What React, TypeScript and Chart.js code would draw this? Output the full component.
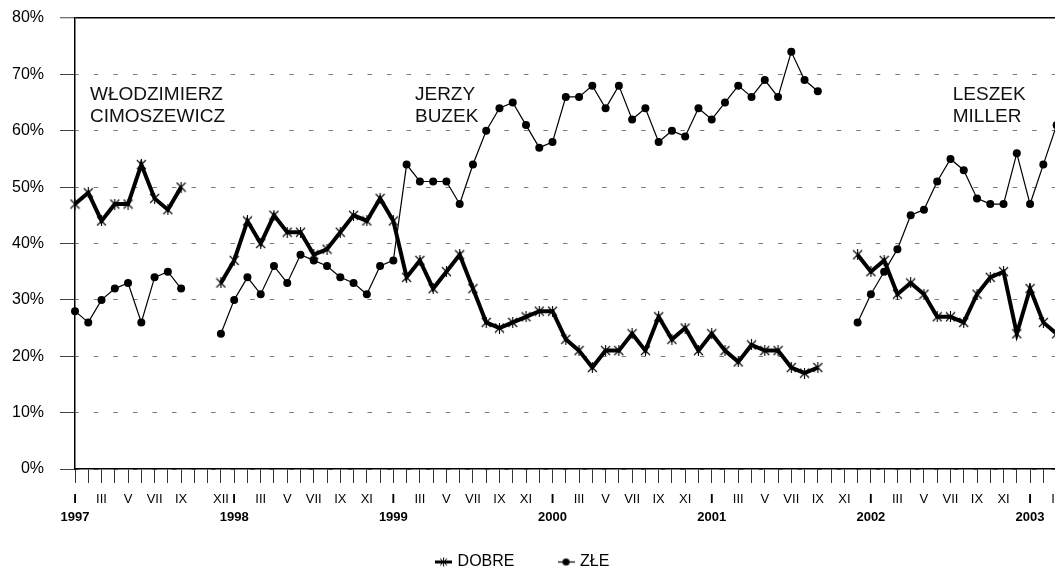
import React, { useEffect, useRef } from 'react';
import { Chart, registerables } from 'chart.js';

Chart.register(...registerables);

const FONT = "'Liberation Sans', Arial, sans-serif";

// Categories: monthly, I 1997 .. III 2003
const MONTHS = ['I', 'II', 'III', 'IV', 'V', 'VI', 'VII', 'VIII', 'IX', 'X', 'XI', 'XII'];
const YEARS = ['1997', '1998', '1999', '2000', '2001', '2002', '2003'];
const PERIOD_COUNT = 75;
const categories: string[] = Array.from({ length: PERIOD_COUNT }, (_, i) => `${MONTHS[i % 12]} ${YEARS[Math.floor(i / 12)]}`);

// Tick labels that are shown
const SHOWN_MONTHS = ['I', 'III', 'V', 'VII', 'IX', 'XI'];
const HIDDEN_TICK_LABELS = ['XI 1997'];
const EXTRA_TICK_LABELS = ['XII 1997'];
const Y_TICKS = [0, 10, 20, 30, 40, 50, 60, 70, 80];

// Series (percent)
const dobre: (number | null)[] = [
  47, 49, 44, 47, 47, 54, 48, 46, 50, null, null, 33,
  37, 44, 40, 45, 42, 42, 38, 39, 42, 45, 44, 48,
  44, 34, 37, 32, 35, 38, 32, 26, 25, 26, 27, 28,
  28, 23, 21, 18, 21, 21, 24, 21, 27, 23, 25, 21,
  24, 21, 19, 22, 21, 21, 18, 17, 18, null, null, 38,
  35, 37, 31, 33, 31, 27, 27, 26, 31, 34, 35, 24,
  32, 26, 24,
];
const zle: (number | null)[] = [
  28, 26, 30, 32, 33, 26, 34, 35, 32, null, null, 24,
  30, 34, 31, 36, 33, 38, 37, 36, 34, 33, 31, 36,
  37, 54, 51, 51, 51, 47, 54, 60, 64, 65, 61, 57,
  58, 66, 66, 68, 64, 68, 62, 64, 58, 60, 59, 64,
  62, 65, 68, 66, 69, 66, 74, 69, 67, null, null, 26,
  31, 35, 39, 45, 46, 51, 55, 53, 48, 47, 47, 56,
  47, 54, 61,
];

// Prime minister labels (anchored in data space)
const PM_NAMES = [['WŁODZIMIERZ', 'CIMOSZEWICZ'], ['JERZY', 'BUZEK'], ['LESZEK', 'MILLER']];
const PM_AT = [1.13, 25.63, 66.17];
const PM_LEVEL = 65.5;

const X_MAX = 73.88;

function makeStar(size: number, lw: number) {
  const c = document.createElement('canvas');
  c.width = size; c.height = size;
  const g = c.getContext('2d')!;
  g.strokeStyle = '#000'; g.lineWidth = lw;
  g.beginPath();
  g.moveTo(1, 1); g.lineTo(size - 1, size - 1);
  g.moveTo(size - 1, 1); g.lineTo(1, size - 1);
  g.moveTo(size / 2, 0); g.lineTo(size / 2, size);
  g.stroke();
  return c;
}

function makeLegendIcon(kind: 'star' | 'dot') {
  const c = document.createElement('canvas');
  c.width = 17; c.height = 11;
  const g = c.getContext('2d')!;
  g.strokeStyle = '#000'; g.fillStyle = '#000';
  g.lineWidth = kind === 'star' ? 3 : 1.2;
  g.beginPath(); g.moveTo(0, 5.5); g.lineTo(17, 5.5); g.stroke();
  if (kind === 'star') {
    g.drawImage(makeStar(9, 1), 4, 1);
  } else {
    g.beginPath(); g.arc(8.5, 5.5, 3.6, 0, Math.PI * 2); g.fill();
  }
  return c;
}

const pmPlugin = {
  id: 'pmLabels',
  afterDatasetsDraw(chart: any) {
    const { ctx, scales } = chart;
    const x = scales.x, y = scales.y;
    ctx.save();
    ctx.font = `19px ${FONT}`;
    ctx.fillStyle = '#111';
    ctx.textAlign = 'left';
    ctx.textBaseline = 'alphabetic';
    PM_NAMES.forEach((lines, k) => {
      const px = x.getPixelForValue(PM_AT[k]);
      const py = y.getPixelForValue(PM_LEVEL);
      lines.forEach((t, j) => ctx.fillText(t, px, py + j * 22.3));
    });
    ctx.restore();
  },
};

export default function App() {
  const ref = useRef<HTMLCanvasElement>(null);
  useEffect(() => {
    const star = makeStar(11, 1.1);
    const iconDobre = makeLegendIcon('star');
    const iconZle = makeLegendIcon('dot');
    const toPts = (arr: (number | null)[]) => arr.map((v, i) => ({ x: i, y: v }));
    const isYearStart = (i: number) => categories[i] && categories[i].startsWith('I ');

    const chart = new Chart(ref.current!, {
      type: 'line',
      data: {
        datasets: [
          {
            label: 'DOBRE',
            data: toPts(dobre) as any,
            borderColor: '#000',
            backgroundColor: '#000',
            borderWidth: 4,
            pointStyle: star as any,
            pointRadius: 5,
            pointBackgroundColor: '#000',
            pointBorderColor: '#000',
            spanGaps: false,
            tension: 0,
            fill: false,
            clip: false as any,
            order: 1,
          },
          {
            label: 'ZŁE',
            data: toPts(zle) as any,
            borderColor: '#000',
            backgroundColor: '#000',
            borderWidth: 1.2,
            pointStyle: 'circle',
            pointRadius: 4,
            pointBorderWidth: 0,
            pointBackgroundColor: '#000',
            spanGaps: false,
            tension: 0,
            fill: false,
            clip: false as any,
            order: 0,
          },
        ],
      },
      options: {
        animation: false,
        responsive: false,
        devicePixelRatio: 1,
        events: [],
        layout: { autoPadding: false, padding: { top: 18, left: -8, right: 0, bottom: 0 } },
        plugins: {
          tooltip: { enabled: false },
          legend: {
            position: 'bottom',
            labels: {
              usePointStyle: true,
              pointStyleWidth: 12,
              padding: 10,
              color: '#000',
              font: { size: 16, family: FONT },
              generateLabels: () => [
                { text: 'DOBRE        ', pointStyle: iconDobre as any, fillStyle: '#000', strokeStyle: '#000', lineWidth: 0, hidden: false, datasetIndex: 0 },
                { text: 'ZŁE', pointStyle: iconZle as any, fillStyle: '#000', strokeStyle: '#000', lineWidth: 0, hidden: false, datasetIndex: 1 },
              ],
            },
          },
        },
        scales: {
          x: {
            type: 'linear',
            min: 0,
            max: X_MAX,
            afterBuildTicks: (axis: any) => {
              axis.ticks = categories.map((_, i) => ({ value: i }));
            },
            afterFit: (axis: any) => {
              axis.height = 75;
              axis.paddingLeft = 0;
              axis.paddingRight = 0;
            },
            grid: { drawOnChartArea: false, drawTicks: true, tickLength: 14, tickColor: '#333', tickWidth: 1 },
            border: { color: '#000', width: 1.5 },
            ticks: {
              autoSkip: false,
              maxRotation: 0,
              minRotation: 0,
              padding: 8,
              color: '#000',
              font: (ctx: any) => ({
                family: FONT,
                size: 13,
                lineHeight: 1.35,
                weight: ctx.tick && isYearStart(Math.round(ctx.tick.value)) ? 'bold' : 'normal',
              }),
              callback: (value: any) => {
                const cat = categories[Math.round(value)];
                if (!cat) return '';
                if (HIDDEN_TICK_LABELS.includes(cat)) return '';
                const [m, yr] = cat.split(' ');
                if (m === 'I') return [m, yr];
                if (SHOWN_MONTHS.includes(m) || EXTRA_TICK_LABELS.includes(cat)) return m;
                return '';
              },
            },
          },
          y: {
            min: 0,
            max: 80,
            afterBuildTicks: (axis: any) => {
              axis.ticks = Y_TICKS.map((v) => ({ value: v }));
            },
            afterFit: (axis: any) => {
              axis.width = 83;
              axis.paddingTop = 0;
              axis.paddingBottom = 0;
            },
            grid: {
              color: (ctx: any) => (ctx.tick && ctx.tick.value === 80 ? '#000' : '#7a7a7a'),
              lineWidth: (ctx: any) => (ctx.tick && ctx.tick.value === 80 ? 1.5 : 1),
              tickLength: 15,
              tickColor: '#444',
              tickWidth: 1,
              tickBorderDash: [],
            },
            border: {
              color: '#000',
              width: 1.5,
              dash: (ctx: any) => (ctx.tick && ctx.tick.value === 80 ? [] : [4.5, 15.05]),
              dashOffset: 1.25,
            } as any,
            ticks: {
              padding: 16,
              color: '#000',
              font: { size: 16, family: FONT },
              callback: (v: any) => `${v}%`,
            },
          },
        },
      },
      plugins: [pmPlugin],
    } as any);
    return () => chart.destroy();
  }, []);

  return (
    <div style={{ position: 'fixed', left: 0, top: 0, width: 1055, height: 567, overflow: 'hidden', background: '#fff' }}>
      <canvas ref={ref} width={1055} height={580} style={{ display: 'block', width: 1055, height: 580 }} />
    </div>
  );
}
